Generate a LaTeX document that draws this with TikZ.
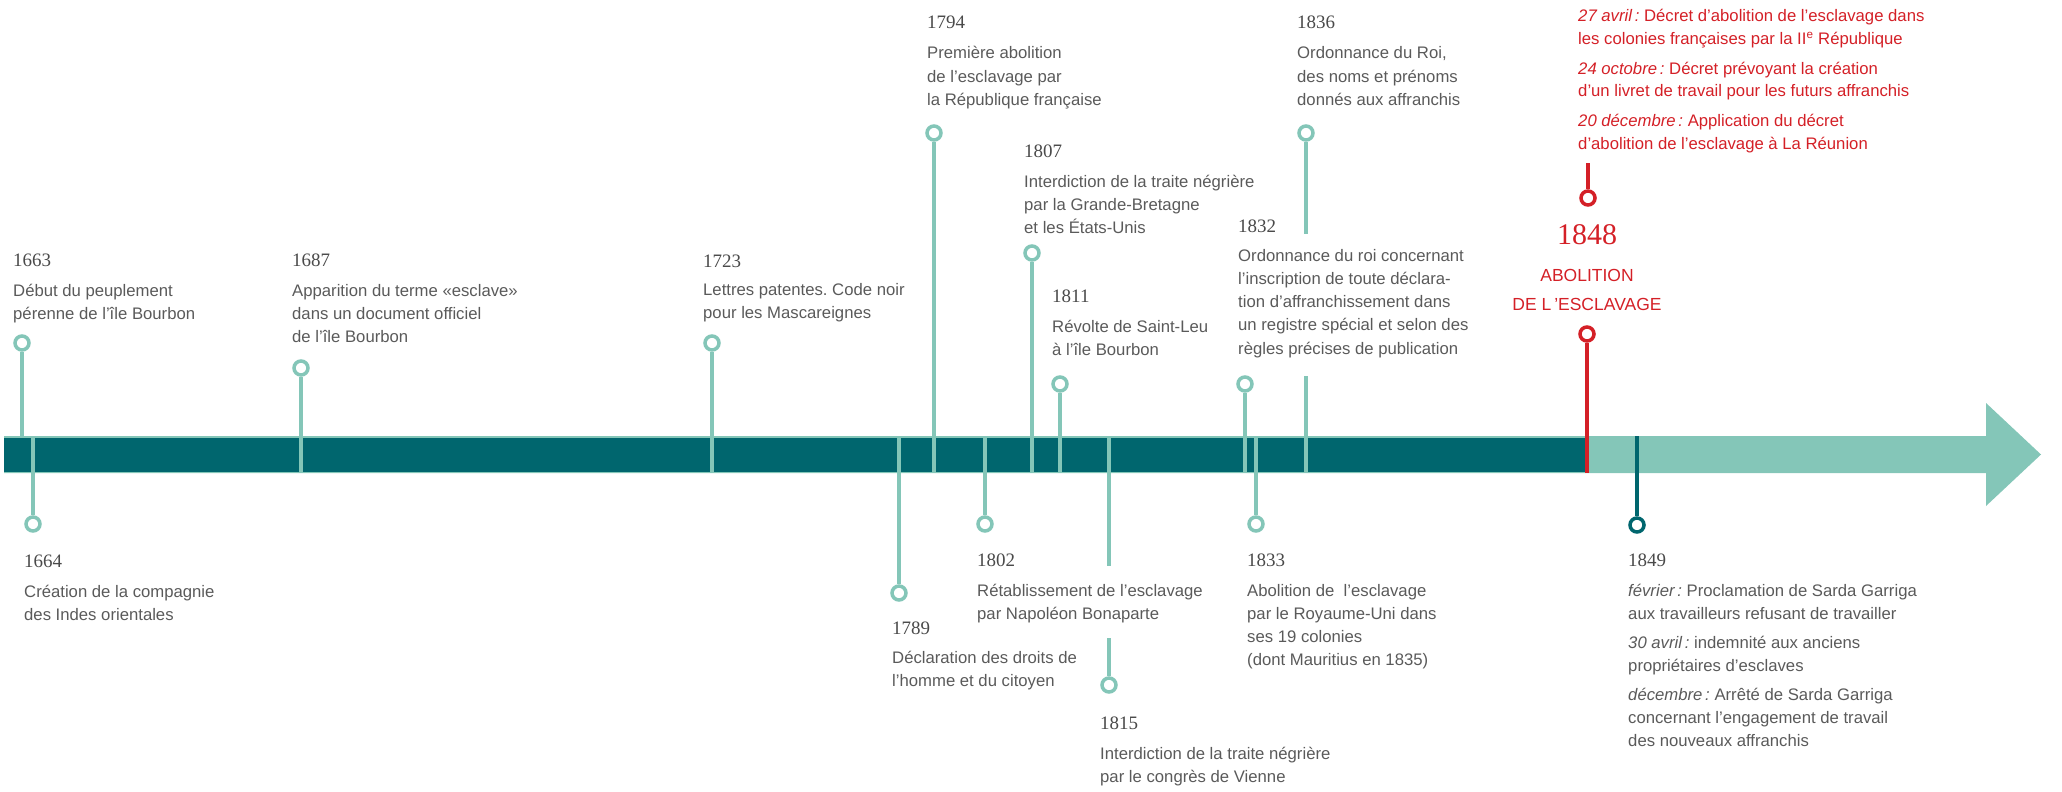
\documentclass[tikz,border=0pt]{standalone}
\usepackage{fontspec}
\setmainfont{Liberation Sans}
\newfontfamily\yearfont{Liberation Serif}
\frenchspacing
\definecolor{tealdark}{HTML}{00666E}
\definecolor{teallight}{HTML}{84C6B8}
\definecolor{abored}{HTML}{D42027}
\definecolor{txtgray}{HTML}{5A5A5A}
\definecolor{yeargray}{HTML}{4A4A4A}
\newcommand{\evlines}[1]{\begin{tabular}[t]{@{}l@{}}#1\end{tabular}}

\begin{document}
\begin{tikzpicture}[x=1pt,y=-1pt,
    ring/.style={circle,draw=teallight,fill=white,line width=3.5pt,minimum size=14pt,inner sep=0pt},
    stem/.style={teallight,line width=3.5pt},
    yearlbl/.style={anchor=base west,inner sep=0pt,text=yeargray,font=\yearfont\fontsize{19}{22}\selectfont},
    infotext/.style={anchor=base west,inner sep=0pt,text=txtgray,font=\fontsize{16.7}{23.3}\selectfont}]

		\useasboundingbox (0,0) rectangle (2062,792);
		\fill[teallight] (4,436) -- (1986,436) -- (1986,403) -- (2041,454.5) -- (1986,506) -- (1986,473) -- (4,473) -- cycle;
		\fill[tealdark] (4,437.5) rectangle (1587,471.5);
		\coordinate (bartop) at (0,436);
		\coordinate (barbot) at (0,473);

		\node[ring] (r1663) at (22,343) {};
		\draw[stem] (r1663) -- (r1663 |- bartop);
		\node[yearlbl] (y1663) at (13,266) {1663};
		\node[infotext] (t1663) at (13,296) {\evlines{Début du peuplement\\pérenne de l’île Bourbon}};

		\node[ring] (r1664) at (33,524) {};
		\draw[stem] (r1664 |- bartop) -- (r1664);
		\node[yearlbl] (y1664) at (24,567) {1664};
		\node[infotext] (t1664) at (24,597) {\evlines{Création de la compagnie\\des Indes orientales}};

		\node[ring] (r1687) at (301,368) {};
		\draw[stem] (r1687) -- (r1687 |- barbot);
		\node[yearlbl] (y1687) at (292,266) {1687};
		\node[infotext] (t1687) at (292,296) {\evlines{Apparition du terme «esclave»\\dans un document officiel\\de l’île Bourbon}};

		\node[ring] (r1723) at (712,343) {};
		\draw[stem] (r1723) -- (r1723 |- barbot);
		\node[yearlbl] (y1723) at (703,267) {1723};
		\node[infotext] (t1723) at (703,295) {\evlines{Lettres patentes. Code noir\\pour les Mascareignes}};

		\node[ring] (r1789) at (899,593) {};
		\draw[stem] (r1789 |- bartop) -- (r1789);
		\node[yearlbl] (y1789) at (892,634) {1789};
		\node[infotext] (t1789) at (892,663) {\evlines{Déclaration des droits de\\l’homme et du citoyen}};

		\node[ring] (r1794) at (934,133) {};
		\draw[stem] (r1794) -- (r1794 |- barbot);
		\node[yearlbl] (y1794) at (927,29) {1794};
		\node[infotext] (t1794) at (927,59) {\evlines{Première abolition\\de l’esclavage par\\la République française}};

		\node[ring] (r1802) at (985,524) {};
		\draw[stem] (r1802 |- bartop) -- (r1802);
		\node[yearlbl] (y1802) at (977,566) {1802};
		\node[infotext] (t1802) at (977,596) {\evlines{Rétablissement de l’esclavage\\par Napoléon Bonaparte}};

		\node[ring] (r1807) at (1032,253) {};
		\draw[stem] (r1807) -- (r1807 |- barbot);
		\node[yearlbl] (y1807) at (1024,157) {1807};
		\node[infotext] (t1807) at (1024,187) {\evlines{Interdiction de la traite négrière\\par la Grande-Bretagne\\et les États-Unis}};

		\node[ring] (r1811) at (1060,384) {};
		\draw[stem] (r1811) -- (r1811 |- barbot);
		\node[yearlbl] (y1811) at (1052,302) {1811};
		\node[infotext] (t1811) at (1052,332) {\evlines{Révolte de Saint-Leu\\à l’île Bourbon}};

		\node[ring] (r1815) at (1109,685) {};
		\coordinate (g1815a) at (1109,566);
		\coordinate (g1815b) at (1109,638);
		\draw[stem] (r1815 |- bartop) -- (g1815a);
		\draw[stem] (g1815b) -- (r1815);
		\node[yearlbl] (y1815) at (1100,729) {1815};
		\node[infotext] (t1815) at (1100,759) {\evlines{Interdiction de la traite négrière\\par le congrès de Vienne}};

		\node[ring] (r1832) at (1245,384) {};
		\draw[stem] (r1832) -- (r1832 |- barbot);
		\node[yearlbl] (y1832) at (1238,232) {1832};
		\node[infotext] (t1832) at (1238,261) {\evlines{Ordonnance du roi concernant\\l’inscription de toute déclara-\\tion d’affranchissement dans\\un registre spécial et selon des\\règles précises de publication}};

		\node[ring] (r1833) at (1256,524) {};
		\draw[stem] (r1833 |- bartop) -- (r1833);
		\node[yearlbl] (y1833) at (1247,566) {1833};
		\node[infotext] (t1833) at (1247,596) {\evlines{Abolition de \ l’esclavage\\par le Royaume-Uni dans\\ses 19 colonies\\(dont Mauritius en 1835)}};

		\node[ring] (r1836) at (1306,133) {};
		\coordinate (g1836a) at (1306,234);
		\coordinate (g1836b) at (1306,376);
		\draw[stem] (r1836) -- (g1836a);
		\draw[stem] (g1836b) -- (r1836 |- barbot);
		\node[yearlbl] (y1836) at (1297,29) {1836};
		\node[infotext] (t1836) at (1297,59) {\evlines{Ordonnance du Roi,\\des noms et prénoms\\donnés aux affranchis}};

		\node[ring,draw=abored] (r1848) at (1587,334) {};
		\draw[stem,abored] (r1848) -- (r1848 |- barbot);
		\node[ring,draw=abored] (r1848top) at (1588,198) {};
		\coordinate (c1848top) at (1588,163);
		\draw[stem,abored] (c1848top) -- (r1848top);
		\node[anchor=base,inner sep=0pt,text=abored,font=\yearfont\fontsize{30}{30}\selectfont] (y1848) at (1587,244) {1848};
		\node[anchor=base,inner sep=0pt,text=abored,font=\fontsize{17.5}{29}\selectfont] (a1848) at (1587,281) {\begin{tabular}[t]{@{}c@{}}ABOLITION\\DE L\,’ESCLAVAGE\end{tabular}};
		\node[infotext,text=abored,font=\fontsize{16.7}{22.5}\selectfont] (t1848) at (1578,22) {\evlines{\textit{27 avril\,:} Décret d’abolition de l’esclavage dans\\les colonies françaises par la II\textsuperscript{e} République\\[7.5pt]\textit{24 octobre\,:} Décret prévoyant la création\\d’un livret de travail pour les futurs affranchis\\[7.5pt]\textit{20 décembre\,:} Application du décret\\d’abolition de l’esclavage à La Réunion}};

		\node[ring,draw=tealdark] (r1849) at (1637,525) {};
		\draw[stem,tealdark] (r1849 |- bartop) -- (r1849);
		\node[yearlbl] (y1849) at (1628,566) {1849};
		\node[infotext] (t1849) at (1628,596) {\evlines{\textit{février\,:} Proclamation de Sarda Garriga\\aux travailleurs refusant de travailler\\[6pt]\textit{30 avril\,:} indemnité aux anciens\\propriétaires d’esclaves\\[5pt]\textit{décembre\,:} Arrêté de Sarda Garriga\\concernant l’engagement de travail\\des nouveaux affranchis}};
\end{tikzpicture}
\end{document}
